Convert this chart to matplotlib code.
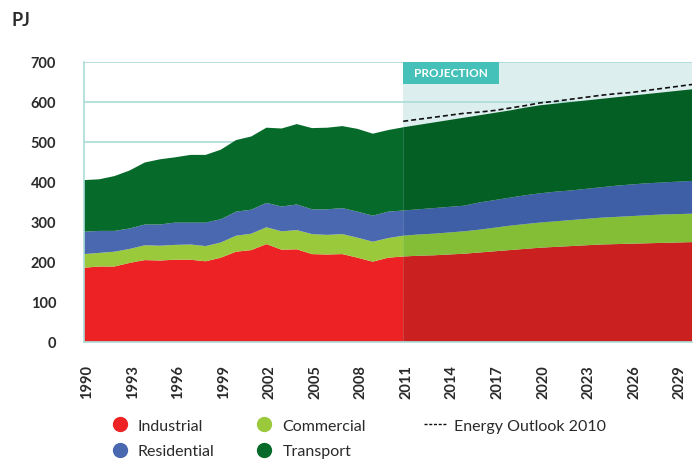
'''
Energy demand by sector, 1990-2030 (PJ), stacked areas with projection band.
'''

import numpy as np
from matplotlib import pyplot as plt
from matplotlib.lines import Line2D
from matplotlib.patches import Rectangle
from matplotlib.transforms import ScaledTranslation

# Data (PJ)
################################################################################
years = list(range(1990, 2031))
industrial = [185, 188, 188, 197, 204, 203, 205, 205, 201, 210, 225, 229, 244, 230,
              231, 219, 218, 219, 210, 200, 210,
              213, 215, 216, 218, 220, 223, 226, 229, 232, 235, 237, 239, 241, 243,
              244, 245, 246, 247, 248, 249]
commercial = [34, 34, 37, 35, 37, 37, 37, 38, 38, 38, 40, 41, 42, 46, 48, 50, 49,
              50, 50, 50, 49,
              52, 53, 54, 55, 56, 57, 59, 61, 62, 63, 64, 65, 66, 67, 68, 69, 70,
              71, 71, 71]
residential = [56, 55, 52, 51, 52, 53, 56, 55, 59, 58, 60, 60, 61, 62, 64, 62, 64,
               65, 65, 65, 66,
               63, 63, 64, 64, 64, 68, 69, 70, 72, 73, 74, 74, 75, 76, 78, 79, 80,
               80, 81, 82]
transport = [129, 129, 137, 145, 155, 163, 163, 169, 169, 174, 179, 183, 188, 195,
             201, 203, 204, 205, 207, 205, 204,
             208, 211, 214, 217, 220, 218, 218, 218, 219, 220, 220, 221, 221, 221,
             221, 222, 223, 225, 227, 229]
outlook_years = list(range(2011, 2031))
outlook_2010 = [551, 556, 561, 566, 571, 574, 578, 584, 590, 597, 601, 606, 611,
                616, 620, 623, 628, 633, 638, 643]
proj_start = 2011
labels = ['Industrial', 'Commercial', 'Residential', 'Transport']
################################################################################

hist_colors = ['#ED2224', '#9BC93C', '#4A68B0', '#066B2A']
proj_colors = ['#CB2020', '#84BD36', '#3E5FA5', '#045F24']
grid_col = '#ABDCD8'
text_col = '#2A2A2A'

plt.rcParams['font.family'] = ['Lato', 'DejaVu Sans']

yrs = np.array(years)
series = np.array([industrial, commercial, residential, transport])
h = yrs <= proj_start
p = yrs >= proj_start

fig = plt.figure(figsize=(6.99, 4.64), dpi=100)
ax = fig.add_axes([0.1202, 0.2614, 0.8698, 0.6035])

ax.stackplot(yrs[h], series[:, h], colors=hist_colors, linewidth=0, zorder=2)
ax.stackplot(yrs[p], series[:, p], colors=proj_colors, linewidth=0, zorder=2)
ax.axvspan(proj_start, years[-1], color='#DCEFEE', lw=0, zorder=0.2)
ax.plot(outlook_years, outlook_2010, color='#111111', lw=1.2, dashes=(3, 1.8), zorder=3)

# Projection tag
ax.add_patch(Rectangle((proj_start, 645), 6.3, 55, facecolor='#45C1B9',
                       edgecolor='none', zorder=4))
ax.text(proj_start + 3.15, 672.5, 'PROJECTION', color='white', fontsize=8.5,
        fontweight='bold', ha='center', va='center', zorder=5)

ax.set_xlim(1990, 2030)
ax.set_ylim(0, 700)
ax.set_yticks(range(0, 701, 100))
ax.set_xticks(range(1990, 2030, 3))
ax.set_xticklabels([str(y) for y in range(1990, 2030, 3)], rotation=90)
ax.tick_params(axis='both', length=0, labelsize=10.5, labelcolor=text_col)
ax.tick_params(axis='y', pad=20)
ax.tick_params(axis='x', pad=16)
shift = ScaledTranslation(3 / 100, 0, fig.dpi_scale_trans)
for lab in ax.get_xticklabels():
    lab.set_fontweight('bold')
    lab.set_transform(lab.get_transform() + shift)
for lab in ax.get_yticklabels():
    lab.set_fontweight('bold')

ax.set_axisbelow(True)
ax.grid(axis='y', color=grid_col, lw=1.2)
for s in ['top', 'right']:
    ax.spines[s].set_visible(False)
for s in ['left', 'bottom']:
    ax.spines[s].set_color(grid_col)
    ax.spines[s].set_linewidth(1.2)

fig.text(0.017, 0.955, 'PJ', fontsize=13, fontweight='bold', color=text_col,
         va='center')

# Legend, three columns
def dot(c):
    return Line2D([], [], marker='o', ls='none', color=c, markersize=10)

cols = [([dot(hist_colors[0]), dot(hist_colors[2])], [labels[0], labels[2]], 0.155),
        ([dot(hist_colors[1]), dot(hist_colors[3])], [labels[1], labels[3]], 0.362),
        ([Line2D([], [], color='#111111', lw=1, dashes=(2.2, 1.2))],
         ['Energy Outlook 2010'], 0.607)]
for hs, ls, x in cols:
    leg = fig.legend(hs, ls, loc='upper left', bbox_to_anchor=(x, 0.096),
                     frameon=False, fontsize=11.5, handlelength=1.4,
                     handletextpad=0.45, labelspacing=0.72, borderaxespad=0,
                     borderpad=0)
    for t in leg.get_texts():
        t.set_color(text_col)

fig.savefig('out.png', dpi=100)
